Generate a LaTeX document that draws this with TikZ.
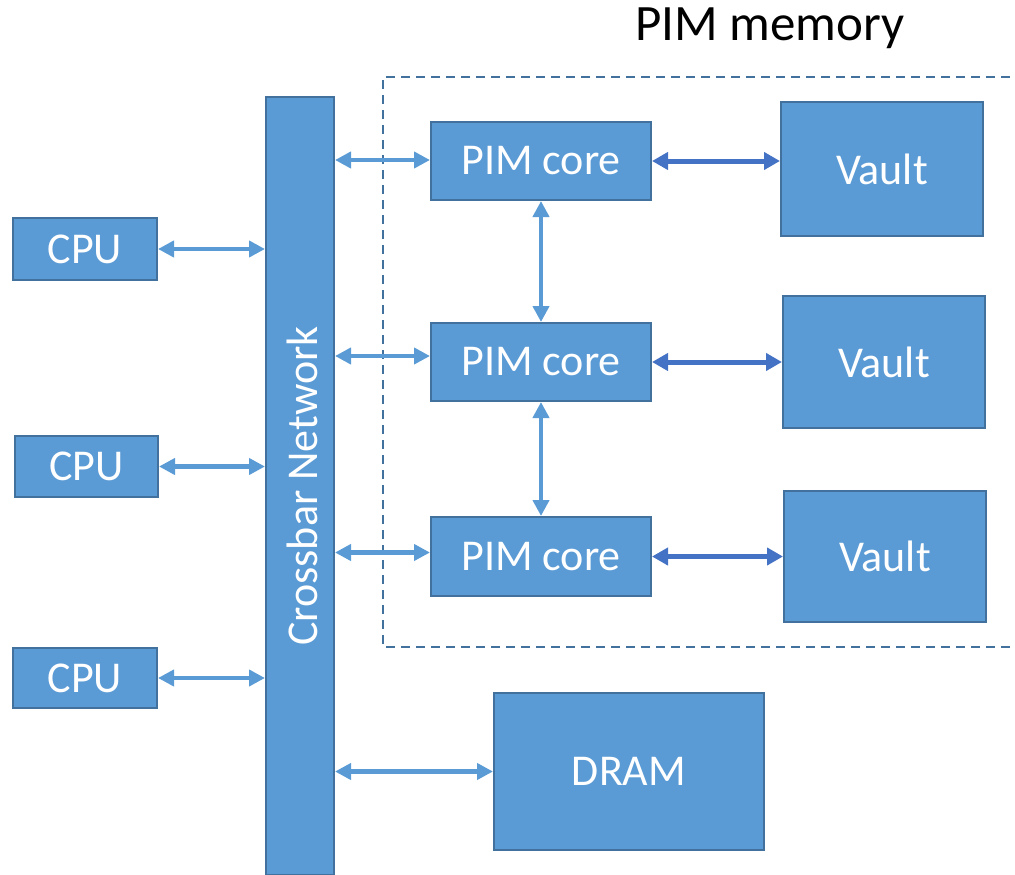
\documentclass[tikz,border=0pt]{standalone}
\usepackage{fontspec}
\setmainfont{Carlito}
\usepackage{tikz}
\usetikzlibrary{arrows.meta}

\definecolor{boxblue}{HTML}{5B9BD5}
\definecolor{edgeblue}{HTML}{41719C}
\definecolor{darkarrow}{HTML}{4472C4}

\tikzset{
    unit/.style={draw=edgeblue, line width=2pt, fill=boxblue, text=white,
        font=\fontsize{44}{48}\selectfont, inner sep=0pt},
    link/.style={boxblue, line width=4.5pt,
        {Triangle[length=16pt,width=16pt]}-{Triangle[length=16pt,width=16pt]}},
    vlink/.style={darkarrow, line width=5pt,
        {Triangle[length=16pt,width=17pt]}-{Triangle[length=16pt,width=17pt]}}
}

\begin{document}
\begin{tikzpicture}[x=1pt, y=-1pt]
    \useasboundingbox (0,0) rectangle (1015,875);
    \draw[edgeblue, line width=2pt, dash pattern=on 9pt off 6pt]
        (1025,77) -- (383,77) -- (383,647) -- (1025,647);
    \node[font=\fontsize{51}{56}\selectfont] (title) at (770,28) {PIM memory};
    \path[every node/.style={unit}]
        (85,249) node[minimum width=144pt, minimum height=62pt] (cpu1){CPU}
        (86.5,466.5) node[minimum width=143pt, minimum height=61pt] (cpu2){CPU}
        (85,678) node[minimum width=144pt, minimum height=60pt] (cpu3){CPU}
        (300,486) node[minimum width=68pt, minimum height=778pt] (xbar){}
        (541,161) node[minimum width=220pt, minimum height=78pt] (core1){PIM core}
        (541,362) node[minimum width=220pt, minimum height=78pt] (core2){PIM core}
        (541,556.5) node[minimum width=220pt, minimum height=79pt] (core3){PIM core}
        (882,169) node[minimum width=202pt, minimum height=134pt] (vault1){Vault}
        (884,362) node[minimum width=202pt, minimum height=132pt] (vault2){Vault}
        (885,556.5) node[minimum width=202pt, minimum height=131pt] (vault3){Vault}
        (629,771.5) node[minimum width=270pt, minimum height=157pt] (dram){DRAM};
    \node[text=white, font=\fontsize{44}{48}\selectfont, rotate=90] (xbartext)
        at ([xshift=2pt]xbar) {Crossbar Network};
    \begin{scope}[link]
        \draw (cpu1.east) to (cpu1.east -| xbar.west);
        \draw (cpu2.east) to (cpu2.east -| xbar.west);
        \draw (cpu3.east) to (cpu3.east -| xbar.west);
        \draw ([yshift=1pt]xbar.east |- core1.west) to ([yshift=1pt]core1.west);
        \draw ([yshift=6pt]xbar.east |- core2.west) to ([yshift=6pt]core2.west);
        \draw ([yshift=4pt]xbar.east |- core3.west) to ([yshift=4pt]core3.west);
        \draw (xbar.east |- dram.west) to (dram.west);
        \draw (core1.south) to (core2.north);
        \draw (core2.south) to (core3.north);
    \end{scope}
    \begin{scope}[vlink]
        \draw (core1.east) to (core1.east -| vault1.west);
        \draw (core2.east) to (core2.east -| vault2.west);
        \draw (core3.east) to (core3.east -| vault3.west);
    \end{scope}
\end{tikzpicture}
\end{document}
